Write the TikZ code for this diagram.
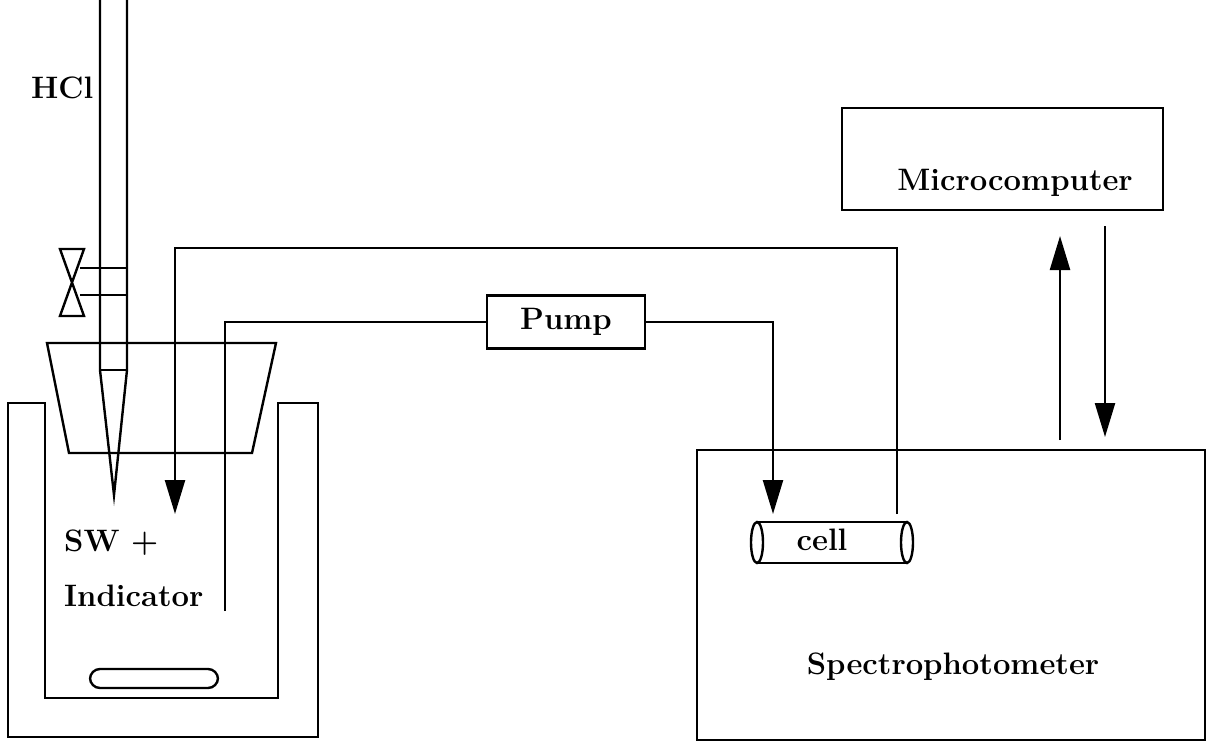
\documentclass[tikz,border=0pt]{standalone}
\usetikzlibrary{arrows.meta}
\begin{document}
\begin{tikzpicture}[x=1pt,y=-1pt,line width=2.4pt,
  lbl/.style={font=\fontsize{31}{36}\selectfont\bfseries,inner sep=0pt},
  box/.style={draw,line width=2.4pt},
  arr/.style={-{Triangle[length=34pt,width=20pt]}}]
\useasboundingbox (0,0) rectangle (1221,752);
% burette
\draw (100,0) -- (100,370) -- (114,495) -- (127,370) -- (127,0);
\draw (100,370) -- (127,370);
\draw (80,268) -- (127,268) (80,295) -- (127,295);
\draw (60,249) -- (84,249) -- (60,316) -- (84,316) -- cycle;
\node[lbl,anchor=west] (hcl) at (30,88) {HCl};
% stopper
\draw (47,343) -- (276,343) -- (252,453) -- (69,453) -- cycle;
% container
\draw (8,403) -- (45,403) -- (45,698) -- (278,698) -- (278,403) -- (318,403) -- (318,737) -- (8,737) -- cycle;
\draw[rounded corners=10pt] (90,669) rectangle (218,688);
\node[lbl,anchor=west] (sw) at (63,543) {SW +};
\node[lbl,anchor=west] (ind) at (63,596) {Indicator};
% pump
\node[box,minimum width=158pt,minimum height=53pt,inner sep=0pt] (pump) at (566,322) {};
\node[lbl] at (pump) {Pump};
% spectrophotometer
\node[box,minimum width=508pt,minimum height=290pt,inner sep=0pt] (spec) at (951,595) {};
\node[lbl] (spl) at (953,667) {Spectrophotometer};
\node[box,minimum width=321pt,minimum height=102pt,inner sep=0pt] (mc) at (1002.5,159) {};
\node[lbl] (mcl) at (1015,183) {Microcomputer};
% cell
\draw (757,522) -- (907,522) (757,563) -- (907,563);
\draw (757,542.5) ellipse (6pt and 20.5pt);
\draw (907,542.5) ellipse (6pt and 20.5pt);
\node[lbl] (cell) at (822,540) {cell};
% tubes
\draw (225,611) -- (225,322) -- (pump.west);
\coordinate (ct) at (773,514);
\draw[arr] (pump.east) -- (773,322) -- (ct);
\draw[arr] (897,514) -- (897,248) -- (175,248) -- (175,514);
% arrows
\draw[arr] (1060,440) -- (1060,236);
\draw[arr] (1105,226) -- (1105,437);
\end{tikzpicture}
\end{document}
